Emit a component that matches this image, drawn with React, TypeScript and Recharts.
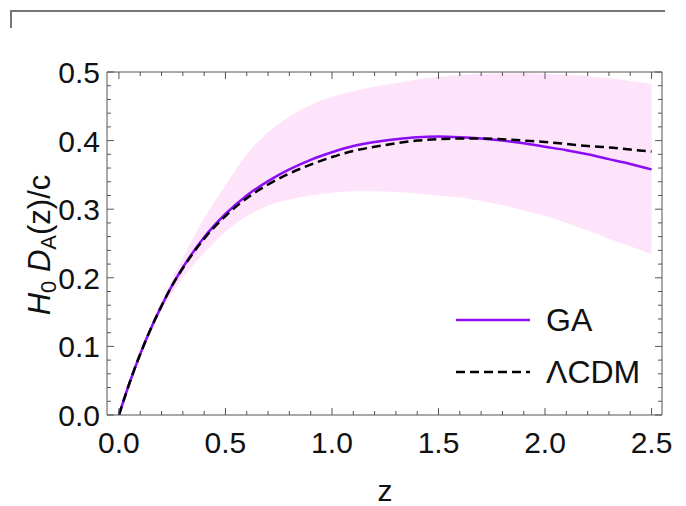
import { Area, ComposedChart, Line, XAxis, YAxis } from "recharts";

const zValues = [
  0, 0.05, 0.1, 0.15, 0.2, 0.25, 0.3, 0.4, 0.5, 0.6, 0.7, 0.8, 0.9, 1.0, 1.1,
  1.2, 1.3, 1.4, 1.5, 1.6, 1.7, 1.8, 1.9, 2.0, 2.1, 2.2, 2.3, 2.4, 2.5,
];
const gaValues = [
  0, 0.047, 0.089, 0.126, 0.159, 0.189, 0.215, 0.259, 0.293, 0.32, 0.341,
  0.358, 0.372, 0.383, 0.392, 0.398, 0.402, 0.405, 0.406, 0.405, 0.403, 0.4,
  0.396, 0.391, 0.386, 0.38, 0.373, 0.366, 0.358,
];
const lcdmValues = [
  0, 0.047, 0.089, 0.126, 0.159, 0.189, 0.214, 0.257, 0.29, 0.316, 0.336,
  0.352, 0.365, 0.376, 0.385, 0.391, 0.396, 0.4, 0.402, 0.403, 0.403, 0.402,
  0.4, 0.398, 0.395, 0.392, 0.39, 0.387, 0.384,
];
const bandLower = [
  0, 0.045, 0.086, 0.121, 0.153, 0.178, 0.2, 0.236, 0.267, 0.29, 0.305, 0.314,
  0.32, 0.324, 0.326, 0.326, 0.325, 0.323, 0.32, 0.317, 0.312, 0.306, 0.298,
  0.29, 0.28, 0.269, 0.257, 0.246, 0.234,
];
const bandUpper = [
  0, 0.048, 0.092, 0.131, 0.166, 0.198, 0.229, 0.287, 0.335, 0.38, 0.412,
  0.435, 0.452, 0.464, 0.472, 0.479, 0.484, 0.489, 0.493, 0.496, 0.497, 0.498,
  0.498, 0.497, 0.496, 0.494, 0.491, 0.487, 0.483,
];

const xTicks = [
  0, 0.1, 0.2, 0.3, 0.4, 0.5, 0.6, 0.7, 0.8, 0.9, 1.0, 1.1, 1.2, 1.3, 1.4,
  1.5, 1.6, 1.7, 1.8, 1.9, 2.0, 2.1, 2.2, 2.3, 2.4, 2.5,
];
const yTicks = [
  0, 0.02, 0.04, 0.06, 0.08, 0.1, 0.12, 0.14, 0.16, 0.18, 0.2, 0.22, 0.24,
  0.26, 0.28, 0.3, 0.32, 0.34, 0.36, 0.38, 0.4, 0.42, 0.44, 0.46, 0.48, 0.5,
];

const data = zValues.map((z, i) => ({
  z,
  ga: gaValues[i],
  lcdm: lcdmValues[i],
  band: [bandLower[i], bandUpper[i]],
}));

const FONT = "'Liberation Sans', Arial, sans-serif";
const AXIS = "#555";
const PURPLE = "#8c0cf5";

const isMajor = (v: number, step: number) =>
  Math.abs(v / step - Math.round(v / step)) < 1e-6;

// inward ticks on every side, labels only on bottom / left
const makeTick = (side: "bottom" | "top" | "left" | "right") => (props: any) => {
  const { x, y, payload } = props;
  const v = payload.value;
  const vertical = side === "bottom" || side === "top";
  const major = isMajor(v, vertical ? 0.5 : 0.1);
  const len = major ? 7 : 4;
  let line;
  if (side === "bottom") line = <line x1={x} y1={y} x2={x} y2={y - len} stroke={AXIS} />;
  else if (side === "top") line = <line x1={x} y1={y} x2={x} y2={y + len} stroke={AXIS} />;
  else if (side === "left") line = <line x1={x} y1={y} x2={x + len} y2={y} stroke={AXIS} />;
  else line = <line x1={x} y1={y} x2={x - len} y2={y} stroke={AXIS} />;
  let label = null;
  if (major && side === "bottom") {
    label = (
      <text x={x} y={y + 38} textAnchor="middle" fontSize={30} fontFamily={FONT} fill="#111">
        {v.toFixed(1)}
      </text>
    );
  } else if (major && side === "left") {
    label = (
      <text x={x - 7} y={y + 11} textAnchor="end" fontSize={30} fontFamily={FONT} fill="#111">
        {v.toFixed(1)}
      </text>
    );
  }
  return (
    <g>
      {line}
      {label}
    </g>
  );
};

const YLabel = () => (
  <text
    transform="translate(50, 245) rotate(-90)"
    textAnchor="middle"
    fontSize={31}
    fontFamily={FONT}
    fill="#111"
  >
    <tspan fontStyle="italic">H</tspan>
    <tspan fontSize={22} dy={6}>0</tspan>
    <tspan dy={-6}> </tspan>
    <tspan fontStyle="italic">D</tspan>
    <tspan fontSize={22} dy={6}>A</tspan>
    <tspan dy={-6}>(z)/c</tspan>
  </text>
);

const LegendBox = () => (
  <div
    style={{
      position: "absolute",
      left: 456,
      top: 294,
      fontFamily: FONT,
      fontSize: 32,
      color: "#111",
    }}
  >
    <div style={{ display: "flex", alignItems: "center", height: 52 }}>
      <svg width={90} height={10}>
        <line x1={0} y1={5} x2={74} y2={5} stroke={PURPLE} strokeWidth={2.5} />
      </svg>
      <span>GA</span>
    </div>
    <div style={{ display: "flex", alignItems: "center", height: 52 }}>
      <svg width={90} height={10}>
        <line x1={0} y1={5} x2={74} y2={5} stroke="#000" strokeWidth={2.5} strokeDasharray="9 5" />
      </svg>
      <span>ΛCDM</span>
    </div>
  </div>
);

export default function App() {
  return (
    <div style={{ position: "absolute", left: 0, top: 0, width: 686, height: 506, background: "#fff" }}>
      <div
        style={{
          position: "absolute",
          left: 10,
          top: 10,
          width: 653,
          height: 16,
          borderTop: "2px solid #777",
          borderLeft: "2px solid #777",
        }}
      />
      <ComposedChart
        width={686}
        height={506}
        data={data}
        margin={{ top: 71, right: 23, bottom: 90, left: 106 }}
      >
        <XAxis
          dataKey="z"
          type="number"
          domain={[-0.056, 2.549]}
          allowDataOverflow
          ticks={xTicks}
          interval={0}
          height={1}
          tickSize={0}
          tickMargin={0}
          tickLine={false}
          axisLine={{ stroke: AXIS }}
          tick={makeTick("bottom")}
        />
        <XAxis
          xAxisId="top"
          orientation="top"
          dataKey="z"
          type="number"
          domain={[-0.056, 2.549]}
          allowDataOverflow
          ticks={xTicks}
          interval={0}
          height={1}
          tickSize={0}
          tickMargin={0}
          tickLine={false}
          axisLine={{ stroke: AXIS }}
          tick={makeTick("top")}
        />
        <YAxis
          type="number"
          domain={[0, 0.5]}
          allowDataOverflow
          ticks={yTicks}
          interval={0}
          width={1}
          tickSize={0}
          tickMargin={0}
          tickLine={false}
          axisLine={{ stroke: AXIS }}
          tick={makeTick("left")}
        />
        <YAxis
          yAxisId="right"
          orientation="right"
          type="number"
          domain={[0, 0.5]}
          allowDataOverflow
          ticks={yTicks}
          interval={0}
          width={1}
          tickSize={0}
          tickMargin={0}
          tickLine={false}
          axisLine={{ stroke: AXIS }}
          tick={makeTick("right")}
        />
        <Area
          dataKey="band"
          type="monotone"
          stroke="none"
          fill="#fde4fb"
          fillOpacity={1}
          isAnimationActive={false}
        />
        <Line
          dataKey="ga"
          type="monotone"
          stroke={PURPLE}
          strokeWidth={2.5}
          dot={false}
          isAnimationActive={false}
        />
        <Line
          dataKey="lcdm"
          type="monotone"
          stroke="#000"
          strokeWidth={2.5}
          strokeDasharray="9 5"
          dot={false}
          isAnimationActive={false}
        />
        <YLabel />
        <text x={385} y={501} textAnchor="middle" fontSize={30} fontFamily={FONT} fill="#111">
          z
        </text>
      </ComposedChart>
      <LegendBox />
    </div>
  );
}
